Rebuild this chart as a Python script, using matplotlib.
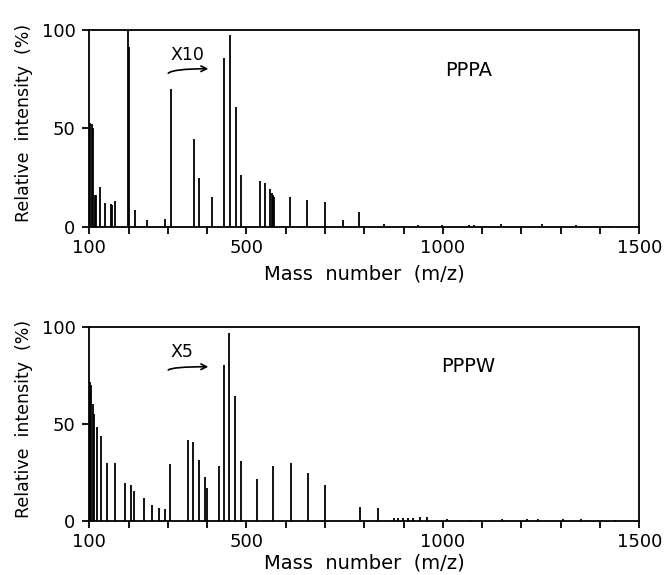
import numpy as np
import matplotlib.pyplot as plt

# PPPA spectrum (m/z, relative intensity %)
pppa_mz = [103, 106, 110, 113.5, 117, 127, 141, 154.5, 158, 165.5, 197.5, 201.5,
           217, 247, 293, 307, 366, 380, 413, 443, 458, 472.5, 486, 533.5, 548,
           560.5, 564, 567, 569, 611, 655, 700, 745, 786, 851, 937, 997, 1067,
           1079, 1147, 1253, 1338, 1425, 1461]
pppa_int = [52.5, 52, 50, 16, 16, 20, 12, 11.5, 11, 13, 100, 91.5,
            8.5, 3.2, 4, 70, 44.5, 25, 15.3, 86, 97.5, 60.7, 26.3, 23.2, 22.4,
            19, 17, 16, 15, 15.3, 13.6, 12.4, 3.4, 7.5, 1.5, 0.8, 0.8, 1.0,
            0.7, 1.2, 1.2, 1.0, 0.5, 0.5]

# PPPW spectrum
pppw_mz = [102, 105, 108.5, 112, 120.5, 130, 144, 165.5, 191, 206, 214.5, 240,
           259, 276.5, 292, 306, 352, 364.5, 379, 394.5, 399, 429, 443, 455.5,
           471.5, 485, 527, 566.5, 612.5, 656.5, 700, 789, 834, 876, 886, 899,
           912, 925, 942, 959, 1011, 1069, 1150, 1213, 1243, 1305, 1351, 1438]
pppw_int = [71.5, 70, 60.5, 55, 48.6, 43.8, 30, 29.6, 19.7, 18.4, 15.4, 11.6,
            8.1, 6.4, 6, 29.3, 41.7, 40.5, 31.4, 22.8, 17, 28.3, 80.5, 96.9,
            64.5, 31, 21.6, 28.4, 29.6, 24.5, 18.7, 6.9, 6.4, 1.5, 1.5, 1.2,
            1.5, 1.2, 2, 2, 1, 0.5, 0.8, 0.7, 0.7, 0.7, 0.7, 0.5]

xticks = list(range(100, 1501, 100))
xlabels = [str(v) if v in (100, 500, 1000, 1500) else '' for v in xticks]

# name, scale factor text, text position, arrow start/end, xlabel offset
panels = [("PPPA", "X10", pppa_mz, pppa_int, (350, 87.5), (301, 78, 403, 80.3), -0.19),
          ("PPPW", "X5", pppw_mz, pppw_int, (337, 87.4), (301, 77.9, 403, 79.6), -0.17)]

plt.rcParams['font.family'] = 'DejaVu Sans'

fig = plt.figure(figsize=(6.68, 5.75), dpi=100)
W, H = 668, 575
boxes = [(89.3, 30, 639.3, 226.7), (89.3, 327.3, 639.3, 520.7)]

for (name, scale, mz, inten, tpos, arr, xl_y), (x0, y0, x1, y1) in zip(panels, boxes):
    ax = fig.add_axes([x0 / W, 1 - y1 / H, (x1 - x0) / W, (y1 - y0) / H])
    ax.vlines(mz, 0, inten, color='black', lw=1.3)
    ax.set_xlim(100, 1500)
    ax.set_ylim(0, 100)
    ax.set_xticks(xticks)
    ax.set_xticklabels(xlabels)
    ax.set_yticks([0, 50, 100])
    ax.tick_params(direction='out', length=5, width=1.3, labelsize=13)
    ax.tick_params(axis='x', pad=3.5)
    ax.tick_params(axis='y', pad=5)
    for s in ax.spines.values():
        s.set_linewidth(1.3)
    ax.set_xlabel("Mass  number  (m/z)", fontsize=14)
    ax.xaxis.set_label_coords(0.5, xl_y)
    ax.set_ylabel("Relative  intensity  (%)", fontsize=12.5)
    ax.yaxis.set_label_coords(-0.102, 0.525)
    ax.text(1065, 79.5, name, fontsize=14, ha='center', va='center')
    ax.text(tpos[0], tpos[1], scale, fontsize=12.5, ha='center', va='center')
    ax.annotate("", xy=(arr[2], arr[3]), xytext=(arr[0], arr[1]),
                arrowprops=dict(arrowstyle='->', lw=1.2, color='black',
                                shrinkA=0, shrinkB=0,
                                connectionstyle='angle3,angleA=45,angleB=0'))

fig.savefig("out.png", dpi=100)
